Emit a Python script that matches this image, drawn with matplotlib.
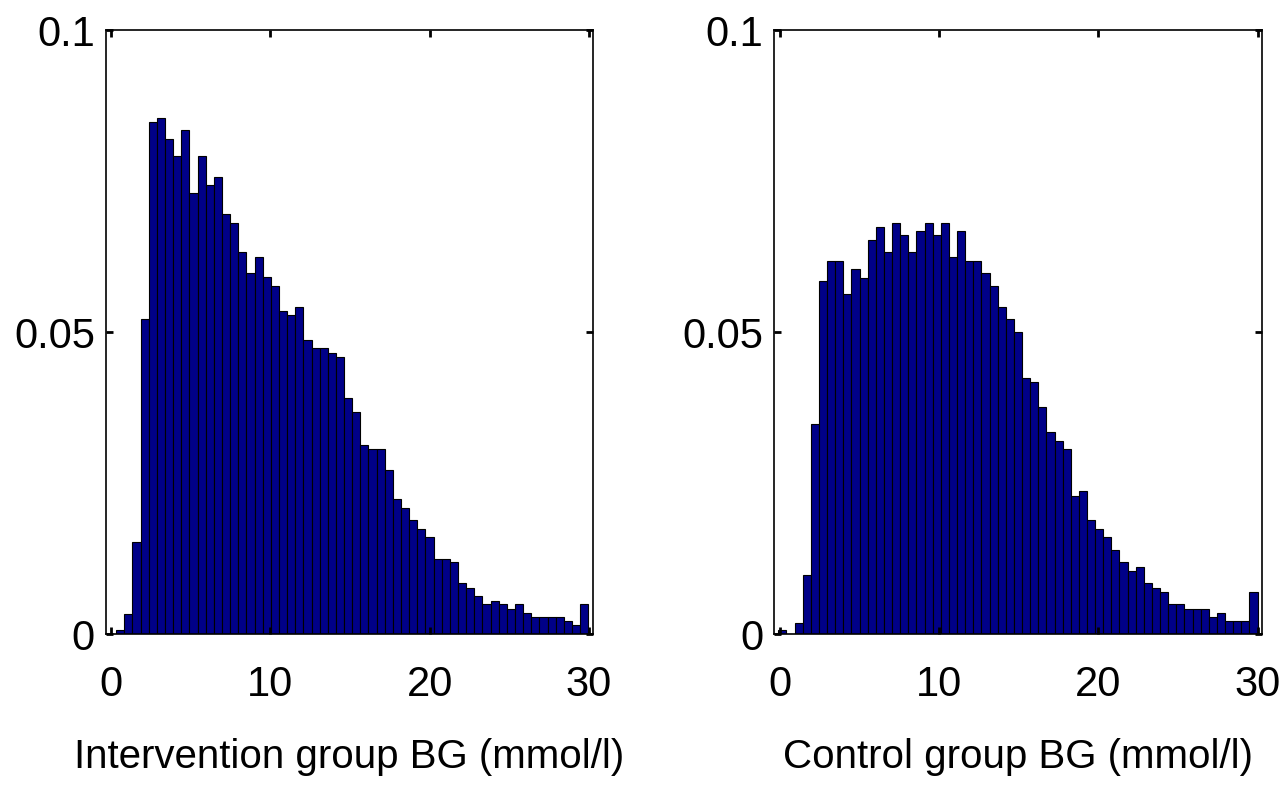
import numpy as np
import matplotlib
matplotlib.use("Agg")
import matplotlib.pyplot as plt

plt.rcParams.update({
    "font.family": ["Liberation Sans", "DejaVu Sans"],
    "font.size": 30,
    "axes.linewidth": 1.2,
})

# bin ranges (mmol/l) and relative frequencies
interv_range = (0.31, 29.96)
interv_freq = [
    0.0007, 0.0034, 0.0153, 0.0522, 0.0847, 0.0855, 0.0820, 0.0792, 0.0834, 0.0730,
    0.0792, 0.0744, 0.0757, 0.0695, 0.0681, 0.0633, 0.0598, 0.0625, 0.0591, 0.0577,
    0.0535, 0.0528, 0.0542, 0.0487, 0.0473, 0.0473, 0.0466, 0.0458, 0.0390, 0.0368,
    0.0313, 0.0306, 0.0306, 0.0271, 0.0223, 0.0209, 0.0188, 0.0174, 0.0160, 0.0125,
    0.0125, 0.0119, 0.0084, 0.0077, 0.0063, 0.0049, 0.0055, 0.0049, 0.0042, 0.0049,
    0.0035, 0.0028, 0.0028, 0.0028, 0.0028, 0.0021, 0.0015, 0.0049,
]

control_range = (-0.08, 30.0)
control_freq = [
    0.0006, 0.0, 0.0019, 0.0097, 0.0347, 0.0584, 0.0618, 0.0618, 0.0563, 0.0604,
    0.0590, 0.0653, 0.0674, 0.0632, 0.0681, 0.0660, 0.0632, 0.0667, 0.0681, 0.0660,
    0.0681, 0.0625, 0.0667, 0.0618, 0.0618, 0.0598, 0.0577, 0.0542, 0.0521, 0.0500,
    0.0424, 0.0417, 0.0376, 0.0334, 0.0320, 0.0306, 0.0229, 0.0236, 0.0188, 0.0174,
    0.0160, 0.0139, 0.0119, 0.0105, 0.0111, 0.0084, 0.0077, 0.0070, 0.0049, 0.0049,
    0.0042, 0.0042, 0.0042, 0.0028, 0.0035, 0.0021, 0.0021, 0.0021, 0.0070,
]

xticks = [0, 10, 20, 30]
yticks = [0, 0.05, 0.1]
ytick_labels = ["0", "0.05", "0.1"]
xlabels = ["Intervention group BG (mmol/l)", "Control group BG (mmol/l)"]

fig = plt.figure(figsize=(12.88, 8.08), dpi=100)
ax1 = fig.add_axes([0.0823, 0.2153, 0.3781, 0.7475])
ax2 = fig.add_axes([0.6012, 0.2153, 0.3784, 0.7475])

for ax, rng, freq, lab in [(ax1, interv_range, interv_freq, xlabels[0]),
                           (ax2, control_range, control_freq, xlabels[1])]:
    edges = np.linspace(rng[0], rng[1], len(freq) + 1)
    ax.bar(edges[:-1], freq, width=np.diff(edges), align="edge",
           color="#000088", edgecolor="black", linewidth=0.8)
    ax.set_xlim(-0.33, 30.26)
    ax.set_ylim(0, 0.1)
    ax.set_xticks(xticks)
    ax.set_yticks(yticks)
    ax.set_yticklabels(ytick_labels)
    ax.tick_params(direction="in", length=5, width=2, top=True, right=True,
                   pad=8)
    ax.tick_params(axis="x", pad=22)
    ax.set_xlabel(lab, fontsize=29, labelpad=24)

fig.savefig("out.png", dpi=100)
